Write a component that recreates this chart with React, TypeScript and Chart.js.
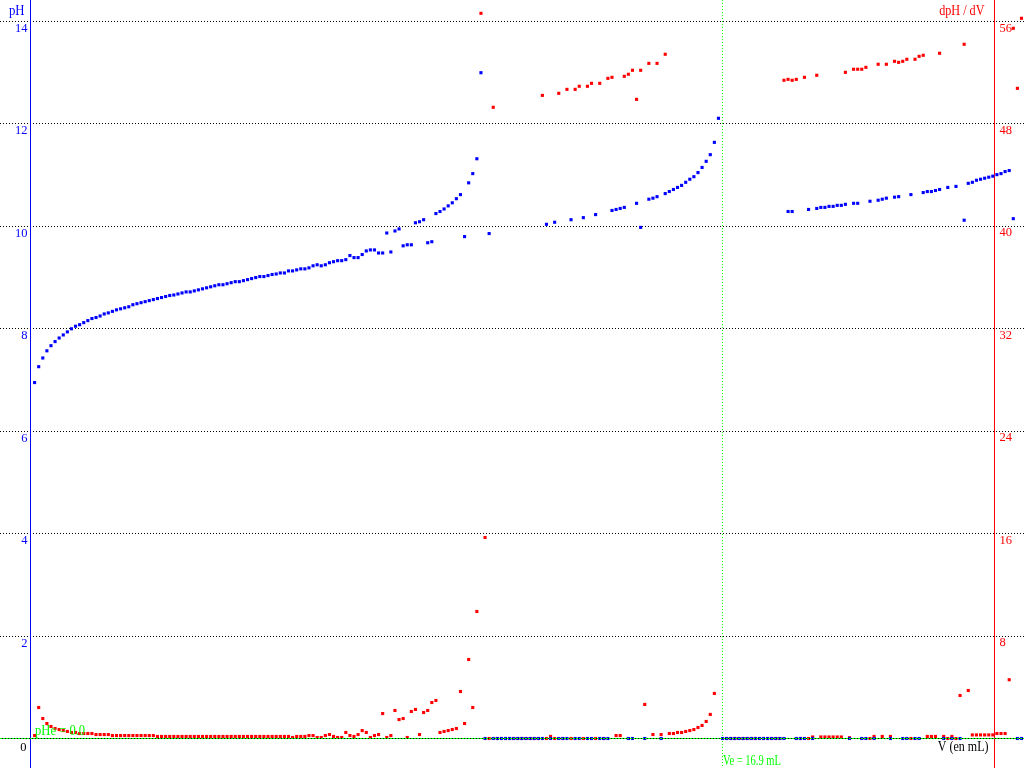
import { useEffect, useRef } from "react";
import { Chart, registerables } from "chart.js";

Chart.register(...registerables);

// Added volume (mL), one sample every 0.1 mL
const volumes = [
  0.1, 0.2, 0.3, 0.4, 0.5, 0.6, 0.7, 0.8, 0.9, 1.0,
  1.1, 1.2, 1.3, 1.4, 1.5, 1.6, 1.7, 1.8, 1.9, 2.0,
  2.1, 2.2, 2.3, 2.4, 2.5, 2.6, 2.7, 2.8, 2.9, 3.0,
  3.1, 3.2, 3.3, 3.4, 3.5, 3.6, 3.7, 3.8, 3.9, 4.0,
  4.1, 4.2, 4.3, 4.4, 4.5, 4.6, 4.7, 4.8, 4.9, 5.0,
  5.1, 5.2, 5.3, 5.4, 5.5, 5.6, 5.7, 5.8, 5.9, 6.0,
  6.1, 6.2, 6.3, 6.4, 6.5, 6.6, 6.7, 6.8, 6.9, 7.0,
  7.1, 7.2, 7.3, 7.4, 7.5, 7.6, 7.7, 7.8, 7.9, 8.0,
  8.1, 8.2, 8.3, 8.4, 8.5, 8.6, 8.7, 8.8, 8.9, 9.0,
  9.1, 9.2, 9.3, 9.4, 9.5, 9.6, 9.7, 9.8, 9.9, 10.0,
  10.1, 10.2, 10.3, 10.4, 10.5, 10.6, 10.7, 10.8, 10.9, 11.0,
  11.1, 11.2, 11.3, 11.4, 11.5, 11.6, 11.7, 11.8, 11.9, 12.0,
  12.1, 12.2, 12.3, 12.4, 12.5, 12.6, 12.7, 12.8, 12.9, 13.0,
  13.1, 13.2, 13.3, 13.4, 13.5, 13.6, 13.7, 13.8, 13.9, 14.0,
  14.1, 14.2, 14.3, 14.4, 14.5, 14.6, 14.7, 14.8, 14.9, 15.0,
  15.1, 15.2, 15.3, 15.4, 15.5, 15.6, 15.7, 15.8, 15.9, 16.0,
  16.1, 16.2, 16.3, 16.4, 16.5, 16.6, 16.7, 16.8, 16.9, 17.0,
  17.1, 17.2, 17.3, 17.4, 17.5, 17.6, 17.7, 17.8, 17.9, 18.0,
  18.1, 18.2, 18.3, 18.4, 18.5, 18.6, 18.7, 18.8, 18.9, 19.0,
  19.1, 19.2, 19.3, 19.4, 19.5, 19.6, 19.7, 19.8, 19.9, 20.0,
  20.1, 20.2, 20.3, 20.4, 20.5, 20.6, 20.7, 20.8, 20.9, 21.0,
  21.1, 21.2, 21.3, 21.4, 21.5, 21.6, 21.7, 21.8, 21.9, 22.0,
  22.1, 22.2, 22.3, 22.4, 22.5, 22.6, 22.7, 22.8, 22.9, 23.0,
  23.1, 23.2, 23.3, 23.4, 23.5, 23.6, 23.7, 23.8, 23.9, 24.0,
  24.1, 24.2,
];

// pH (left axis)
const phValues: (number | null)[] = [
  6.95, 7.26, 7.43, 7.57, 7.67, 7.75, 7.82, 7.88, 7.94, 8.00,
  8.05, 8.08, 8.12, 8.16, 8.20, 8.22, 8.25, 8.29, 8.31, 8.34,
  8.37, 8.39, 8.41, 8.43, 8.47, 8.49, 8.51, 8.53, 8.55, 8.57,
  8.59, 8.61, 8.63, 8.65, 8.66, 8.68, 8.70, 8.72, 8.72, 8.74,
  8.76, 8.78, 8.80, 8.82, 8.84, 8.86, 8.86, 8.88, 8.90, 8.92,
  8.92, 8.94, 8.96, 8.98, 9.00, 9.02, 9.02, 9.04, 9.06, 9.07,
  9.09, 9.09, 9.13, 9.13, 9.15, 9.17, 9.17, 9.19, 9.23, 9.25,
  9.23, 9.25, 9.29, 9.31, 9.33, 9.33, 9.35, 9.43, 9.39, 9.39,
  9.45, 9.52, 9.54, 9.54, 9.48, 9.48, 9.87, 9.50, 9.91, 9.95,
  9.62, 9.64, 9.64, 10.07, 10.09, 10.13, 9.68, 9.70, 10.25, 10.29,
  10.34, 10.40, 10.46, 10.54, 10.62, 9.80, 10.85, 11.03, 11.32, 13.00,
  0, 9.86, 0, 0, 0, 0, 0, 0, 0, 0,
  0, 0, 0, 0, 0, 10.04, 0, 10.08, 0, 0,
  0, 10.13, 0, 0, 10.17, 0, 0, 10.23, 0, 0,
  0, 10.31, 10.33, 10.35, 10.37, 0, 0, 10.45, 9.98, 0,
  10.53, 10.55, 10.58, 0, 10.64, 10.68, 10.72, 10.76, 10.80, 10.86,
  10.92, 10.97, 11.05, 11.15, 11.27, 11.40, 11.64, 12.11, 0, 0,
  0, 0, 0, 0, 0, 0, 0, 0, 0, 0,
  0, 0, 0, 0, 10.29, 10.29, 0, 0, 0, 10.33,
  0, 10.35, 10.37, 10.37, 10.39, 10.39, 10.41, 10.41, 10.43, 0,
  10.45, 10.45, 0, 0, 10.49, 0, 10.51, 10.53, 10.55, 0,
  10.57, 10.58, 0, 0, 10.62, 0, 0, 10.66, 10.68, 10.68,
  10.70, 10.72, 0, 10.76, 0, 10.78, 0, 10.12, 10.84, 10.86,
  10.90, 10.92, 10.94, 10.96, 10.98, 11.01, 11.03, 11.07, 11.09, 10.15,
  0, 0,
];

// dpH/dV (right axis)
const derivValues: (number | null)[] = [
  0.23, 2.42, 1.56, 1.17, 0.94, 0.78, 0.70, 0.62, 0.55, 0.47,
  0.47, 0.39, 0.39, 0.39, 0.39, 0.31, 0.31, 0.31, 0.31, 0.23,
  0.23, 0.23, 0.23, 0.23, 0.23, 0.23, 0.23, 0.23, 0.23, 0.23,
  0.16, 0.16, 0.16, 0.16, 0.16, 0.16, 0.16, 0.16, 0.16, 0.16,
  0.16, 0.16, 0.16, 0.16, 0.16, 0.16, 0.16, 0.16, 0.16, 0.16,
  0.16, 0.16, 0.16, 0.16, 0.16, 0.16, 0.16, 0.16, 0.16, 0.16,
  0.16, 0.16, 0.16, 0.08, 0.16, 0.16, 0.16, 0.23, 0.23, 0.08,
  0.08, 0.23, 0.31, 0.16, 0.08, 0.08, 0.47, 0.23, 0.16, 0.31,
  0.62, 0.47, 0.08, 0.23, 0.31, 1.95, 0.08, 0.23, 2.19, 1.48,
  1.56, 0.08, 2.11, 2.27, 0.31, 2.03, 2.19, 2.81, 2.97, 0.47,
  0.55, 0.62, 0.70, 0.78, 3.67, 1.17, 6.17, 2.42, 9.92, 56.64,
  15.70, 0, 49.30, 0, 0, 0, 0, 0, 0, 0,
  0, 0, 0, 0, 50.23, 0, 0.16, 0, 50.39, 0,
  50.70, 0, 50.70, 50.94, 0, 50.94, 51.17, 0, 51.17, 0,
  51.56, 51.64, 0.23, 0.23, 51.72, 51.88, 52.19, 49.92, 52.19, 2.66,
  52.73, 0.31, 52.73, 0.31, 53.44, 0.39, 0.39, 0.47, 0.47, 0.55,
  0.62, 0.70, 0.86, 1.02, 1.33, 1.88, 3.52, null, null, 0,
  0, 0, 0, 0, 0, 0, 0, 0, 0, 0,
  0, 0, 0, 51.41, 51.48, 51.41, 51.48, 0, 51.64, 0,
  0.12, 51.80, 0.12, 0.12, 0.12, 0.12, 0.12, 0.12, 52.03, 0.06,
  52.27, 52.27, 52.27, 52.42, 0, 0.16, 52.66, 0.16, 52.66, 0.16,
  52.89, 52.81, 52.89, 53.05, 0, 53.05, 53.28, 53.36, 0.16, 0.16,
  0.16, 53.52, 0.16, 0, 0.16, 0, 3.36, 54.22, 3.75, 0.28,
  0.28, 0.28, 0.28, 0.28, 0.28, 0.39, 0.39, 0.39, 4.59, 55.47,
  50.78, 56.25,
];

const leftTicks = [14, 12, 10, 8, 6, 4, 2];
const rightTicks = [56, 48, 40, 32, 24, 16, 8];
const equivalenceVolume = 16.9;
const equivalencePH = 0.0;
const rightAxisVolume = 23.54;

const BLUE = "#0000ff";
const RED = "#ff0000";
const GREEN = "#00ff00";
const SERIF = '"Liberation Serif", "Times New Roman", serif';

function txt(
  ctx: CanvasRenderingContext2D,
  s: string,
  x: number,
  y: number,
  align: CanvasTextAlign,
  color: string,
  size: number,
  sx = 1
) {
  ctx.save();
  ctx.font = `${size}px ${SERIF}`;
  ctx.fillStyle = color;
  ctx.textAlign = align;
  ctx.textBaseline = "alphabetic";
  ctx.translate(x, y);
  ctx.scale(sx, 1);
  ctx.fillText(s, 0, 0);
  ctx.restore();
}

const snap = (p: number) => Math.floor(p) + 0.5;

const overlayPlugin = {
  id: "titrationOverlay",
  beforeDatasetsDraw(chart: any) {
    const ctx: CanvasRenderingContext2D = chart.ctx;
    const xs = chart.scales.x;
    const ys = chart.scales.y;
    const W = chart.width;
    const H = chart.height;
    ctx.save();
    ctx.lineWidth = 1;
    // dotted grid lines
    ctx.strokeStyle = "#000";
    ctx.setLineDash([1, 2]);
    for (const t of leftTicks) {
      const y = snap(ys.getPixelForValue(t));
      ctx.beginPath();
      ctx.moveTo(0, y);
      ctx.lineTo(W, y);
      ctx.stroke();
    }
    // equivalence vertical line
    ctx.strokeStyle = GREEN;
    const xv = snap(xs.getPixelForValue(equivalenceVolume));
    ctx.beginPath();
    ctx.moveTo(xv, 0);
    ctx.lineTo(xv, H);
    ctx.stroke();
    ctx.setLineDash([]);
    // left (pH) axis line
    ctx.strokeStyle = BLUE;
    const xl = snap(xs.getPixelForValue(0));
    ctx.beginPath();
    ctx.moveTo(xl, 0);
    ctx.lineTo(xl, H);
    ctx.stroke();
    // right (dpH/dV) axis line
    ctx.strokeStyle = RED;
    const xr = snap(xs.getPixelForValue(rightAxisVolume));
    ctx.beginPath();
    ctx.moveTo(xr, 0);
    ctx.lineTo(xr, H);
    ctx.stroke();
    ctx.restore();
  },
  afterDatasetsDraw(chart: any) {
    const ctx: CanvasRenderingContext2D = chart.ctx;
    const xs = chart.scales.x;
    const ys = chart.scales.y;
    const y2 = chart.scales.y2;
    const W = chart.width;
    ctx.save();
    // baseline pH = pHe
    const yb = snap(ys.getPixelForValue(equivalencePH));
    ctx.lineWidth = 1;
    ctx.strokeStyle = "#000";
    ctx.beginPath();
    ctx.moveTo(0, yb);
    ctx.lineTo(W, yb);
    ctx.stroke();
    ctx.strokeStyle = GREEN;
    ctx.setLineDash([2, 1]);
    ctx.beginPath();
    ctx.moveTo(0, yb);
    ctx.lineTo(W, yb);
    ctx.stroke();
    ctx.setLineDash([]);
    ctx.restore();

    const xl = xs.getPixelForValue(0);
    const xr = xs.getPixelForValue(rightAxisVolume);
    // tick labels
    for (const t of leftTicks) {
      txt(ctx, String(t), xl - 3, ys.getPixelForValue(t) + 10.5, "right", BLUE, 12.5);
    }
    txt(ctx, "0", xl - 4, ys.getPixelForValue(0) + 12, "right", "#000", 12.5);
    for (const t of rightTicks) {
      txt(ctx, String(t), xr + 5, y2.getPixelForValue(t) + 10, "left", RED, 12.5);
    }
    // axis titles
    txt(ctx, "pH", xl - 6, 15, "right", BLUE, 15, 0.85);
    txt(ctx, "dpH / dV", xr - 10, 14.5, "right", RED, 14, 0.87);
    txt(ctx, "V (en mL)", xr - 6, 751, "right", "#000", 15, 0.8);
    // equivalence labels
    const xv = xs.getPixelForValue(equivalenceVolume);
    txt(ctx, "Ve = 16.9 mL", xv + 0.5, 765, "left", GREEN, 14, 0.75);
    txt(ctx, "pHe = 0.0", xl + 4.5, 735, "left", GREEN, 14, 0.9);
  },
};

const X0_PX = 30.5;
const PX_PER_ML = 40.95;
const Y0_PX = 738.5;
const PX_PER_PH = 717 / 14;

export default function App() {
  const canvasRef = useRef<HTMLCanvasElement | null>(null);

  useEffect(() => {
    document.body.style.margin = "0";
    const canvas = canvasRef.current;
    if (!canvas) return;
    const bluePts: { x: number; y: number }[] = [];
    const redPts: { x: number; y: number }[] = [];
    volumes.forEach((v, i) => {
      const p = phValues[i];
      const d = derivValues[i];
      if (p !== null && p !== undefined) bluePts.push({ x: v, y: p });
      if (d !== null && d !== undefined) redPts.push({ x: v, y: d });
    });
    const xMin = -X0_PX / PX_PER_ML;
    const xMax = (1024 - X0_PX) / PX_PER_ML;
    const yMax = Y0_PX / PX_PER_PH;
    const yMin = -(768 - Y0_PX) / PX_PER_PH;
    const chart = new Chart(canvas, {
      type: "scatter",
      data: {
        datasets: [
          {
            label: "pH",
            data: bluePts,
            yAxisID: "y",
            backgroundColor: BLUE,
            borderWidth: 0,
            pointStyle: "rect",
            pointRadius: 2.2,
            pointHoverRadius: 2.2,
          },
          {
            label: "dpH / dV",
            data: redPts,
            yAxisID: "y2",
            backgroundColor: RED,
            borderWidth: 0,
            pointStyle: "rect",
            pointRadius: 2.2,
            pointHoverRadius: 2.2,
          },
        ],
      },
      options: {
        animation: false,
        responsive: false,
        devicePixelRatio: 1,
        layout: { padding: 0, autoPadding: false },
        plugins: {
          legend: { display: false },
          tooltip: { enabled: false },
          title: { display: false },
        },
        events: [],
        scales: {
          x: { type: "linear", display: false, min: xMin, max: xMax },
          y: { type: "linear", display: false, min: yMin, max: yMax },
          y2: { type: "linear", display: false, min: yMin * 4, max: yMax * 4 },
        },
      },
      plugins: [overlayPlugin],
    });
    return () => chart.destroy();
  }, []);

  return (
    <div style={{ position: "fixed", left: 0, top: 0, width: 1024, height: 768, background: "#fff" }}>
      <canvas ref={canvasRef} width={1024} height={768} style={{ display: "block", width: 1024, height: 768 }} />
    </div>
  );
}
